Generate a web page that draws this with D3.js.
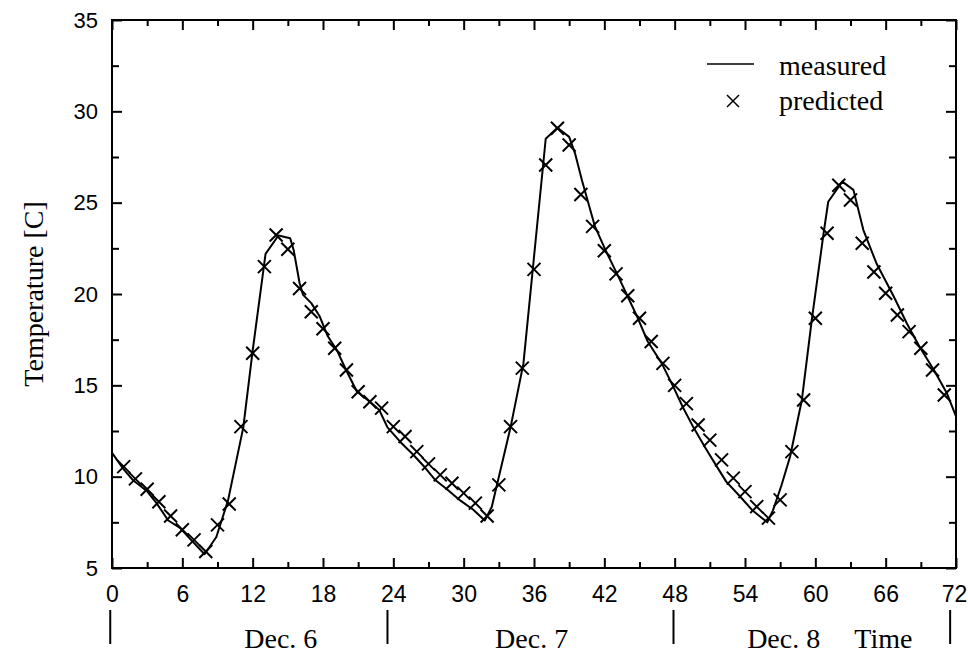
<!DOCTYPE html>
<html>
    <head>
        <title>Temperature measured vs predicted</title>
        <style>
body {
    margin: 0;
    background: #fff;
}

.tick text {
    font-family: "Liberation Sans", Arial, sans-serif;
    fill: #000;
}

.serif {
    font-family: "Liberation Serif", "Times New Roman", serif;
    fill: #000;
}
        </style>
    </head>
    <body>
        <div id="chart"></div>
        <script src="https://d3js.org/d3.v7.min.js"></script>
        <script>

// measured curve: hour, temperature [C]
const measuredHours = [0, 1.0, 1.8, 3.0, 3.8, 4.8, 5.8, 6.8, 7.9, 8.9, 9.9, 11.2, 12.0, 13.1, 14.2, 15.2, 15.5, 16.0, 16.3, 17.0, 17.7, 18.4, 19.2, 20.0, 20.9, 22.0, 22.8, 23.5, 24.6, 25.7, 26.7, 27.6, 28.6, 29.7, 30.8, 31.8, 32.4, 34.0, 35.1, 37.0, 38.0, 39.0, 39.5, 40.1, 41.2, 42.1, 43.2, 44.0, 44.8, 45.7, 46.9, 47.9, 48.7, 49.6, 50.6, 51.6, 52.4, 53.6, 54.6, 55.9, 56.4, 57.1, 57.85, 58.85, 59.7, 60.7, 61.1, 62.3, 63.25, 64.1, 65.2, 66.7, 67.8, 68.9, 70.1, 71.2, 72.0]
const measuredTemps = [11.3, 10.4, 9.8, 9.2, 8.55, 7.6, 7.2, 6.5, 5.75, 6.7, 8.7, 12.7, 16.9, 22.2, 23.2, 23.05, 22.4, 20.6, 19.95, 19.5, 18.8, 17.7, 16.9, 15.8, 14.65, 14.1, 13.65, 12.7, 11.9, 11.2, 10.5, 9.8, 9.3, 8.7, 8.2, 7.6, 8.35, 12.7, 16.2, 28.5, 29.1, 28.6, 27.7, 26.2, 23.7, 22.4, 20.95, 19.85, 18.76, 17.4, 16.2, 14.9, 13.8, 12.7, 11.6, 10.55, 9.73, 8.9, 8.18, 7.5, 8.18, 9.5, 11.1, 14.2, 18.6, 23.3, 25.05, 26.15, 25.7, 23.5, 21.7, 19.85, 18.4, 17.1, 15.85, 14.6, 13.3]

// predicted values, one per hour
const predictedHours = d3.range(1, 72)
const predictedTemps = [10.55, 9.88, 9.31, 8.63, 7.85, 7.09, 6.54, 5.9, 7.36, 8.5, 12.74, 16.76, 21.5, 23.23, 22.45, 20.3, 19.03, 18.1, 17.03, 15.84, 14.65, 14.1, 13.75, 12.74, 12.2, 11.37, 10.7, 10.1, 9.64, 9.1, 8.55, 7.85, 9.55, 12.74, 15.94, 21.35, 27.06, 29.07, 28.16, 25.45, 23.7, 22.37, 21.1, 19.9, 18.67, 17.4, 16.2, 15.0, 14.0, 12.83, 12.0, 10.92, 9.92, 9.18, 8.36, 7.73, 8.73, 11.37, 14.2, 18.67, 23.33, 25.95, 25.15, 22.78, 21.2, 20.04, 18.85, 17.94, 17.03, 15.84, 14.47]

const xMajor = d3.range(0, 73, 6)
const xMinor = d3.range(3, 72, 6)
const yMajor = d3.range(5, 36, 5)
const yMinor = d3.range(7.5, 35, 5)

const dayLabels = ["Dec. 6", "Dec. 7", "Dec. 8", "Time"]
const dayLabelHours = [14.4, 35.8, 57.3, 65.8]
const dayDividers = [-0.15, 23.5, 47.9, 71.5]

const measured = measuredHours.map((h, i) => ({h, t: measuredTemps[i]}))
const predicted = predictedHours.map((h, i) => ({h, t: predictedTemps[i]}))

const W = 968, H = 659
const margin = {top: 20, right: 12, bottom: 91, left: 112}
const width = W - margin.left - margin.right
const height = H - margin.top - margin.bottom

const x = d3.scaleLinear().domain([0, 72]).range([0, width])
const y = d3.scaleLinear().domain([5, 35]).range([height, 0])

const svg = d3.select("#chart").append("svg")
    .attr("width", W)
    .attr("height", H)
const g = svg.append("g")
    .attr("transform", "translate(" + margin.left + "," + margin.top + ")")

// frame
g.append("rect")
    .attr("width", width)
    .attr("height", height)
    .attr("fill", "none")
    .attr("stroke", "#000")
    .attr("stroke-width", 2)

const styleAxis = sel => {
    sel.select(".domain").remove()
    sel.selectAll(".tick line").attr("stroke", "#000").attr("stroke-width", 2)
}

// bottom axis with labels
g.append("g")
    .attr("transform", "translate(0," + height + ")")
    .call(d3.axisBottom(x).tickValues(xMajor).tickSize(-10).tickPadding(18))
    .call(styleAxis)
    .call(s => s.selectAll("text").style("font-size", "23px"))
    .call(s => s.selectAll(".tick").filter(d => d === 72).select("text").attr("dx", "-2"))
g.append("g")
    .attr("transform", "translate(0," + height + ")")
    .call(d3.axisBottom(x).tickValues(xMinor).tickSize(-6).tickFormat(""))
    .call(styleAxis)

// top axis
g.append("g")
    .call(d3.axisTop(x).tickValues(xMajor).tickSize(-10).tickFormat(""))
    .call(styleAxis)
g.append("g")
    .call(d3.axisTop(x).tickValues(xMinor).tickSize(-6).tickFormat(""))
    .call(styleAxis)

// left axis with labels
g.append("g")
    .call(d3.axisLeft(y).tickValues(yMajor).tickSize(-10).tickPadding(14))
    .call(styleAxis)
    .call(s => s.selectAll("text").style("font-size", "22px"))
g.append("g")
    .call(d3.axisLeft(y).tickValues(yMinor).tickSize(-7).tickFormat(""))
    .call(styleAxis)

// right axis
g.append("g")
    .attr("transform", "translate(" + width + ",0)")
    .call(d3.axisRight(y).tickValues(yMajor).tickSize(-10).tickFormat(""))
    .call(styleAxis)
g.append("g")
    .attr("transform", "translate(" + width + ",0)")
    .call(d3.axisRight(y).tickValues(yMinor).tickSize(-7).tickFormat(""))
    .call(styleAxis)

// measured line
const line = d3.line()
    .x(d => x(d.h))
    .y(d => y(d.t))
g.append("path")
    .datum(measured)
    .attr("d", line)
    .attr("fill", "none")
    .attr("stroke", "#000")
    .attr("stroke-width", 2)
    .attr("stroke-linejoin", "round")

// predicted crosses
const cross = r => "M" + (-r) + "," + (-r) + "L" + r + "," + r + "M" + (-r) + "," + r + "L" + r + "," + (-r)
g.selectAll(".pred")
    .data(predicted)
    .enter()
    .append("path")
    .attr("class", "pred")
    .attr("transform", d => "translate(" + x(d.h) + "," + y(d.t) + ")")
    .attr("d", cross(6.5))
    .attr("stroke", "#000")
    .attr("stroke-width", 2)

// y label
svg.append("text")
    .attr("class", "serif")
    .attr("transform", "translate(43," + (margin.top + height / 2) + ") rotate(-90)")
    .attr("text-anchor", "middle")
    .style("font-size", "28px")
    .text("Temperature [C]")

// legend
const leg = svg.append("g")
leg.append("line")
    .attr("x1", 707).attr("x2", 754)
    .attr("y1", 64).attr("y2", 64)
    .attr("stroke", "#000")
    .attr("stroke-width", 1.5)
leg.append("text")
    .attr("class", "serif")
    .attr("x", 779).attr("y", 75)
    .style("font-size", "28px")
    .text("measured")
leg.append("path")
    .attr("transform", "translate(733,101)")
    .attr("d", cross(6))
    .attr("stroke", "#000")
    .attr("stroke-width", 1.5)
leg.append("text")
    .attr("class", "serif")
    .attr("x", 779).attr("y", 110)
    .style("font-size", "28px")
    .text("predicted")

// day annotations under the axis
const ann = svg.append("g")
    .attr("transform", "translate(" + margin.left + ",0)")
ann.selectAll(".divider")
    .data(dayDividers)
    .enter()
    .append("line")
    .attr("x1", d => x(d)).attr("x2", d => x(d))
    .attr("y1", 610).attr("y2", 644)
    .attr("stroke", "#000")
    .attr("stroke-width", 2)
ann.selectAll(".day")
    .data(dayLabels)
    .enter()
    .append("text")
    .attr("class", "serif")
    .attr("x", (d, i) => x(dayLabelHours[i]))
    .attr("y", 648)
    .attr("text-anchor", "middle")
    .style("font-size", "28px")
    .text(d => d)
        </script>
    </body>
</html>
